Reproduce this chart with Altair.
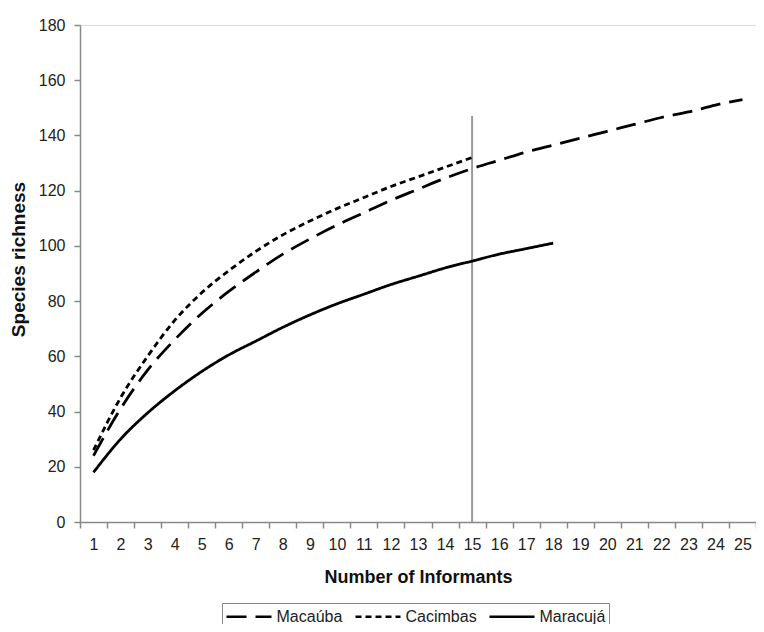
import altair as alt
import pandas as pd

informants = list(range(1, 26))

macauba = [24, 41, 55, 66, 75.5, 83.5, 90.5, 97, 102.5, 107.5, 112, 116.5, 120.5, 124.5, 128,
           131, 134, 136.5, 139, 141.5, 144, 146.5, 148.5, 151, 153]
cacimbas = [26, 45, 60, 73, 83, 91, 98, 104, 109, 113.5, 117.5, 121.5, 125, 128.5, 132]
maracuja = [18, 30, 39.5, 47.5, 54.5, 60.5, 65.5, 70.5, 75, 79, 82.5, 86, 89, 92, 94.5, 97, 99, 101]

series_names = ["Macaúba", "Cacimbas", "Maracujá"]
dash_patterns = [[20, 9], [6, 4], [1, 0]]

rule_x = [15]
rule_top = [147]

rows = []
for name, vals in zip(series_names, [macauba, cacimbas, maracuja]):
    for x, v in zip(informants, vals):
        rows.append({"Informants": x, "Richness": v, "Site": name, "order": x})
df = pd.DataFrame(rows)

rule_df = pd.DataFrame({"x": rule_x, "y": [0], "y2": rule_top})

W = 676
H = 497

xscale = alt.Scale(type="band", domain=informants, paddingInner=0, paddingOuter=0)
yscale = alt.Scale(domain=[0, 180], nice=False)

xaxis = alt.Axis(tickBand="extent", labelAngle=0, labelOverlap=False,
                 title="Number of Informants", grid=False,
                 labelFontSize=16, labelColor="#222", labelPadding=8,
                 titleFontSize=18, titleFontWeight="bold", titleColor="#111",
                 titlePadding=16, domainColor="#888", tickColor="#888",
                 domainWidth=1.5, tickWidth=1.5, tickSize=6)

lines = alt.Chart(df).mark_line(color="black", strokeWidth=2.8, interpolate="monotone").encode(
    x=alt.X("Informants:O", scale=xscale, axis=xaxis),
    y=alt.Y("Richness:Q", scale=yscale,
            axis=alt.Axis(values=list(range(0, 181, 20)), title="Species richness", grid=False,
                          labelFontSize=16, labelColor="#222", labelPadding=9,
                          titleFontSize=19, titleFontWeight="bold", titleColor="#111",
                          titlePadding=10, titleY=234, domainColor="#888", tickColor="#888",
                          domainWidth=1.5, tickWidth=1.5,
                          tickSize=6)),
    strokeDash=alt.StrokeDash("Site:N",
                              scale=alt.Scale(domain=series_names, range=dash_patterns),
                              legend=alt.Legend(title=None, orient="none", direction="horizontal",
                                                legendX=142, legendY=578,
                                                strokeColor="#888", padding=3,
                                                labelFontSize=16, labelColor="#222",
                                                symbolType="M-2.5,0H2.5",
                                                symbolSize=324, symbolStrokeWidth=2.6,
                                                symbolStrokeColor="black",
                                                symbolOffset=13.5,
                                                labelOffset=17, columnPadding=7)),
    order="order:Q",
    detail="Site:N",
)

rule = alt.Chart(rule_df).mark_rule(color="#999", strokeWidth=2).encode(
    x=alt.X("x:O", scale=xscale, axis=xaxis),
    y=alt.Y("y:Q", scale=yscale),
    y2="y2:Q",
)

chart = alt.layer(rule, lines).properties(
    width=W, height=H,
    autosize=alt.AutoSizeParams(type="none"),
    padding={"left": 72, "top": 17, "right": 0, "bottom": 102},
).configure_view(stroke=None).configure(font="Liberation Sans")

chart.save("out.html", embed_options={"renderer": "svg", "actions": False})
